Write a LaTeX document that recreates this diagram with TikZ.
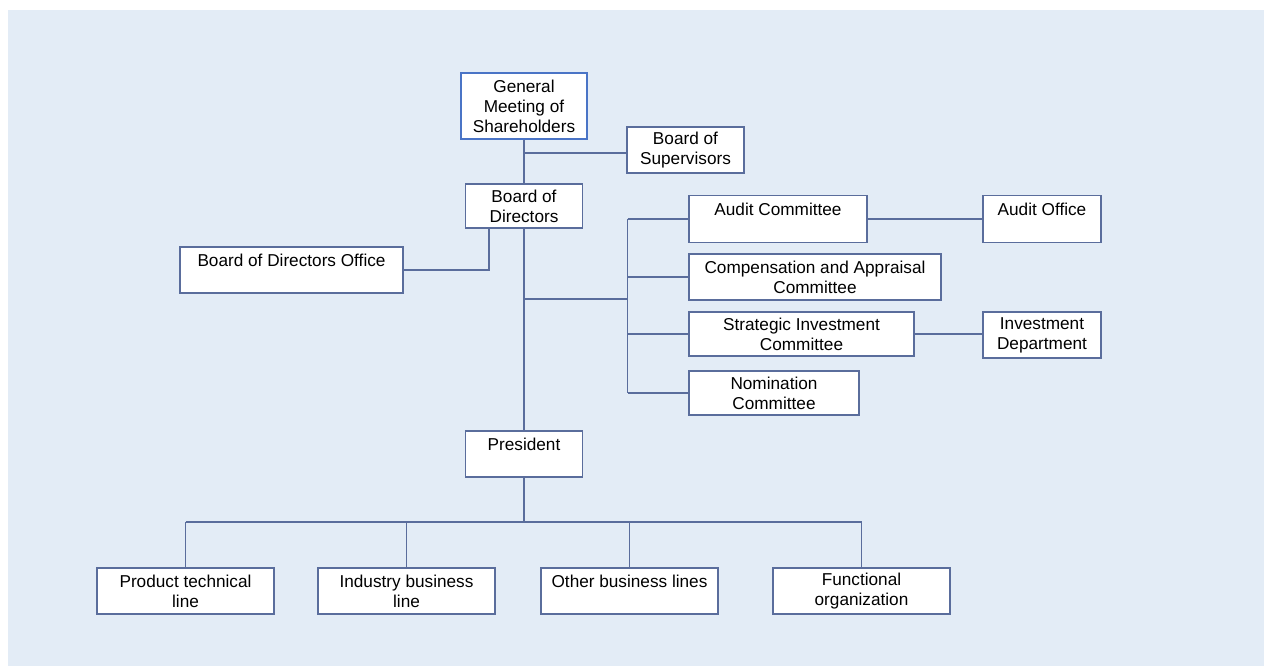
\documentclass[tikz,border=0pt]{standalone}
\usepackage{fontspec}
\setmainfont{Liberation Sans}
\usetikzlibrary{positioning}
\definecolor{panel}{HTML}{E3ECF6}
\definecolor{wirecol}{HTML}{5A6D9C}
\definecolor{topline}{HTML}{4A74C6}

\begin{document}
\begin{tikzpicture}[
  x=1pt, y=-1pt,
  font=\fontsize{17.2}{20}\selectfont,
  box/.style={draw=wirecol, fill=white, line width=1.8pt, align=center, inner xsep=3pt, inner ysep=3pt, minimum height=46pt},
  headbox/.style={box, draw=topline, minimum height=66pt},
  link/.style={draw=wirecol, line width=1.8pt}
]
\useasboundingbox (0,0) rectangle (1264,666);
\fill[panel] (8,10) rectangle (1264,666);

% junction points of the links
\coordinate (sj) at (524,153);
\coordinate (cj) at (627.5,299);
\coordinate (bj) at (524,522);
\coordinate (dj) at (489,269);

% top of the chart
\node[headbox, minimum width=126pt] (gm) at (524,106) {General\\Meeting of\\Shareholders};
\node[box, minimum width=117pt] (bs) at (685.5,150) {Board of\\Supervisors};
\node[box, minimum width=117pt, minimum height=44pt] (bd) at (524,206) {Board of\\Directors};
\node[box, minimum width=223pt] (bdo) at (291.5,270) {Board of Directors Office\\\mbox{}};

% committees
\node[box, minimum width=178pt, minimum height=47pt] (ac) at (778,219) {Audit Committee\\\mbox{}};
\node[box, minimum width=118pt, minimum height=47pt] (ao) at (1042,219) {Audit Office\\\mbox{}};
\node[box, minimum width=252pt] (ca) at (815,277) {Compensation and Appraisal\\Committee};
\node[box, minimum width=225pt, minimum height=44pt] (si) at (801.5,334) {Strategic Investment\\Committee};
\node[box, minimum width=118pt] (id) at (1042,335) {Investment\\Department};
\node[box, minimum width=170pt, minimum height=44pt] (nc) at (774,393) {Nomination\\Committee};

% president and lines
\node[box, minimum width=117pt] (pr) at (524,454) {President\\\mbox{}};
\node[box, minimum width=177pt] (pl) at (185.5,591) {Product technical\\line};
\node[box, minimum width=177pt] (il) at (406.5,591) {Industry business\\line};
\node[box, minimum width=177pt] (ol) at (629.5,591) {Other business lines\\\mbox{}};
\node[box, minimum width=177pt] (fo) at (861.5,591) {Functional\\organization};

\draw[link] (gm.south) -- (bd.north);
\draw[link] (sj) -- (sj -| bs.west);
\draw[link] (dj |- bd.south) |- (bdo.east);
\draw[link] (bd.south) -- (pr.north);
\draw[link] (cj -| bd.south) -- (cj);
\draw[link] (cj |- ac.west) -- (cj |- nc.west);
\foreach \n in {ac,ca,si,nc} \draw[link] (cj |- \n.west) -- (\n.west);
\draw[link] (ac.east) -- (ac.east -| ao.west);
\draw[link] (si.east) -- (si.east -| id.west);
\draw[link] (pr.south) -- (bj);
\draw[link] (bj -| pl.north) -- (bj -| fo.north);
\foreach \n in {pl,il,ol,fo} \draw[link] (bj -| \n.north) -- (\n.north);
\end{tikzpicture}
\end{document}
